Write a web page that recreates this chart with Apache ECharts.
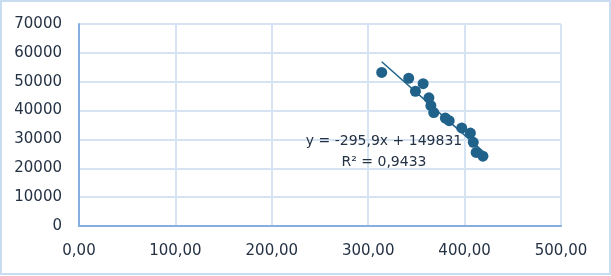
<!DOCTYPE html>
<html>
<head>
<meta charset="utf-8">
<script src="https://cdn.jsdelivr.net/npm/echarts@6/dist/echarts.min.js"></script>
<style>html,body{margin:0;padding:0;background:#fff;}#c{width:611px;height:276px;}</style>
</head>
<body>
<div id="c"></div>
<script>
const xValues = [314, 342, 349, 357, 363, 365, 368, 380, 384, 397, 406, 409, 412, 419];
const yValues = [53200, 51200, 46700, 49300, 44400, 41700, 39300, 37400, 36500, 34000, 32200, 29000, 25500, 24200];
const slope = -295.9;
const intercept = 149831;
const equationText = 'y = -295,9x + 149831';
const r2Text = 'R² = 0,9433';

const points = xValues.map((x, i) => [x, yValues[i]]);
const xMin = Math.min(...xValues), xMax = Math.max(...xValues);
const trend = [[xMin, slope * xMin + intercept], [xMax, slope * xMax + intercept]];

const font = 'DejaVu Sans';
const textColor = '#243244';
const chart = echarts.init(document.getElementById('c'));
chart.setOption({
  animation: false,
  grid: { left: 79, right: 50, top: 24, bottom: 50 },
  xAxis: {
    type: 'value', min: 0, max: 500, interval: 100,
    axisLine: { show: true, onZero: false, lineStyle: { color: '#86afe0', width: 2 } },
    axisTick: { show: false },
    splitLine: { show: true, lineStyle: { color: '#d5e3f3', width: 2 } },
    axisLabel: { color: textColor, fontFamily: font, fontSize: 15, margin: 18,
      formatter: v => v.toFixed(2).replace('.', ',') }
  },
  yAxis: {
    type: 'value', min: 0, max: 70000, interval: 10000,
    axisLine: { show: true, onZero: false, lineStyle: { color: '#86afe0', width: 2 } },
    axisTick: { show: false },
    splitLine: { show: true, lineStyle: { color: '#d5e3f3', width: 2 } },
    axisLabel: { color: textColor, fontFamily: font, fontSize: 15, margin: 17,
      formatter: v => String(v) }
  },
  series: [
    { type: 'scatter', data: points, symbolSize: 11,
      itemStyle: { color: '#21628a', opacity: 1 }, z: 3 },
    { type: 'line', data: trend, symbol: 'none',
      lineStyle: { color: '#21628a', width: 1.5 }, z: 4 }
  ],
  graphic: [
    { type: 'rect', shape: { x: 1, y: 1, width: 609, height: 273 },
      style: { fill: 'none', stroke: '#cadcf0', lineWidth: 2 }, silent: true },
    { type: 'text', style: { text: equationText, x: 384, y: 141, fill: textColor,
      font: '14px "DejaVu Sans"', align: 'center', verticalAlign: 'middle' }, z: 10 },
    { type: 'text', style: { text: r2Text, x: 384, y: 162, fill: textColor,
      font: '14px "DejaVu Sans"', align: 'center', verticalAlign: 'middle' }, z: 10 }
  ]
});
</script>
</body>
</html>
